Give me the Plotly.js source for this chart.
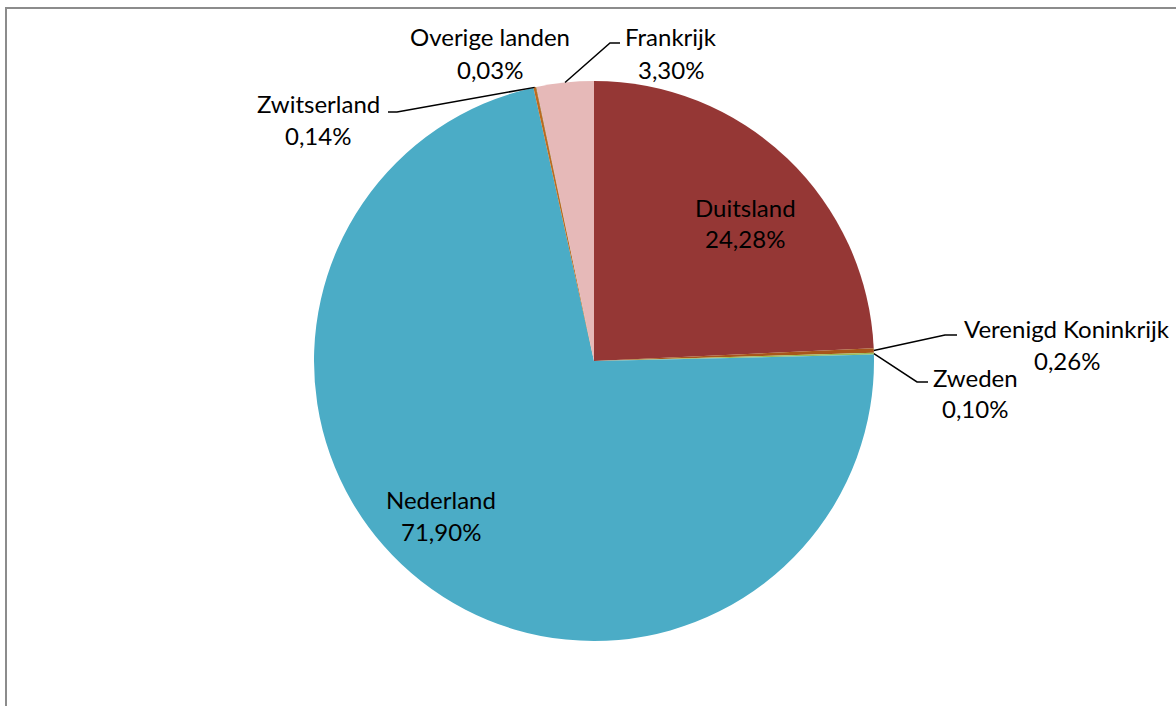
<!DOCTYPE html>
<html>
<head>
<meta charset="utf-8">
<script src="https://cdn.plot.ly/plotly-3.0.1.min.js"></script>
<style>html,body{margin:0;padding:0;background:#fff;overflow:hidden}#chart{width:1176px;height:706px}</style>
</head>
<body>
<div id="chart"></div>
<script>
// Data
const countries = ["Duitsland", "Verenigd Koninkrijk", "Zweden", "Nederland", "Zwitserland", "Overige landen", "Frankrijk"];
const shares = [24.28, 0.26, 0.10, 71.90, 0.14, 0.03, 3.30];
const sliceColors = ["#953735", "#A8561A", "#9BBB59", "#4BACC6", "#BC6A1F", "#7F5A10", "#E6B9B8"];

// Layout geometry (pixels)
const W = 1176, H = 706;
const cx = 594, cy = 361, R = 280;
const FONT = "Lato, Open Sans, sans-serif";
const FS = 24;

function fmt(v) { return v.toFixed(2).replace('.', ',') + '%'; }
function px(x) { return x / W; }
function py(y) { return 1 - y / H; }

// label placement per category
const labelPos = {
  "Duitsland": {x: 745, y: 207},
  "Nederland": {x: 441, y: 499},
  "Verenigd Koninkrijk": {x: 1067, y: 328, elbow: [945, 335], end: [957, 335]},
  "Zweden": {x: 975, y: 377, elbow: [917, 382], end: [928, 382]},
  "Zwitserland": {x: 318, y: 104, elbow: [397, 112], end: [388, 112]},
  "Overige landen": {x: 490, y: 37},
  "Frankrijk": {x: 671, y: 37, elbow: [610, 43], end: [620, 43]}
};

const annotations = [];
const shapes = [];
const total = shares.reduce((a, b) => a + b, 0);
let cum = 0;
countries.forEach((c, i) => {
  const mid = (cum + shares[i] / 2) / total;
  cum += shares[i];
  const lp = labelPos[c];
  const ang = mid * 2 * Math.PI;
  const ax = cx + R * Math.sin(ang), ay = cy - R * Math.cos(ang);
  annotations.push({x: px(lp.x), y: py(lp.y), xref: 'paper', yref: 'paper', text: c, showarrow: false,
    xanchor: 'center', yanchor: 'middle', font: {family: FONT, size: FS, color: '#000'}});
  annotations.push({x: px(lp.x), y: py(lp.y + 32), xref: 'paper', yref: 'paper', text: fmt(shares[i]), showarrow: false,
    xanchor: 'center', yanchor: 'middle', font: {family: FONT, size: FS, color: '#000'}});
  if (lp.elbow) {
    shapes.push({type: 'path', xref: 'paper', yref: 'paper',
      path: `M ${px(ax)} ${py(ay)} L ${px(lp.elbow[0])} ${py(lp.elbow[1])} L ${px(lp.end[0])} ${py(lp.end[1])}`,
      line: {color: '#000', width: 1.5}});
  }
});

// chart border (extends beyond viewport at right and bottom)
shapes.push({type: 'rect', xref: 'paper', yref: 'paper', x0: px(6), x1: px(1190), y0: py(720), y1: py(8),
  line: {color: '#8c8c8c', width: 2}, fillcolor: 'rgba(0,0,0,0)', layer: 'above'});

const trace = {
  type: 'pie',
  labels: countries,
  values: shares,
  sort: false,
  direction: 'clockwise',
  rotation: 0,
  textinfo: 'none',
  hoverinfo: 'label+percent',
  marker: {colors: sliceColors, line: {width: 0}},
  domain: {x: [px(cx - R), px(cx + R)], y: [py(cy + R), py(cy - R)]},
  showlegend: false
};

const layout = {
  width: W, height: H,
  margin: {l: 0, r: 0, t: 0, b: 0},
  paper_bgcolor: '#fff',
  showlegend: false,
  annotations: annotations,
  shapes: shapes,
  font: {family: FONT}
};

Plotly.newPlot('chart', [trace], layout, {displayModeBar: false, staticPlot: true});
</script>
</body>
</html>
